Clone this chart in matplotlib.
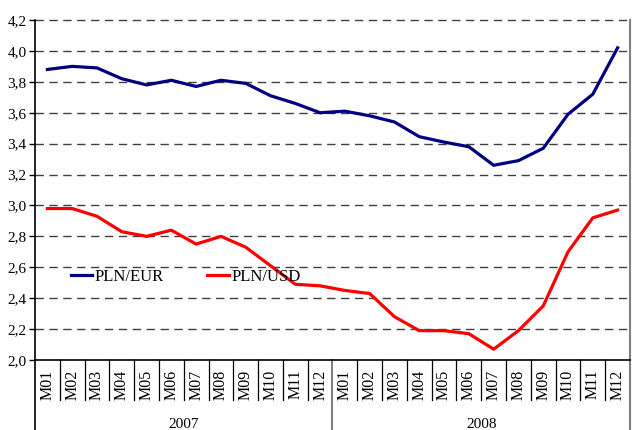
import matplotlib
matplotlib.use("Agg")
import matplotlib.pyplot as plt
import matplotlib.transforms as mtransforms

plt.rcParams['font.family'] = ['Liberation Serif', 'DejaVu Serif']

months = ['M01', 'M02', 'M03', 'M04', 'M05', 'M06',
          'M07', 'M08', 'M09', 'M10', 'M11', 'M12']
years = ['2007', '2008']
pln_eur = [3.88, 3.90, 3.89, 3.82, 3.78, 3.81, 3.77, 3.81, 3.79, 3.71, 3.66, 3.60,
           3.61, 3.58, 3.54, 3.445, 3.41, 3.38, 3.26, 3.29, 3.37, 3.59, 3.72, 4.02]
pln_usd = [2.98, 2.98, 2.93, 2.83, 2.80, 2.84, 2.75, 2.80, 2.73, 2.61, 2.49, 2.48,
           2.45, 2.43, 2.28, 2.19, 2.19, 2.17, 2.07, 2.19, 2.35, 2.70, 2.92, 2.97]
yticks = [2.0, 2.2, 2.4, 2.6, 2.8, 3.0, 3.2, 3.4, 3.6, 3.8, 4.0, 4.2]

labels = months * len(years)
x = list(range(len(labels)))

fig = plt.figure(figsize=(6.4, 4.3), dpi=100)
ax = fig.add_axes([35 / 640, 70 / 430, 595 / 640, 340 / 430])

# dashed gridlines
ax.hlines(yticks[1:], -0.5, len(x) - 0.5, colors='#404040', linestyles=(0, (6, 4)),
          linewidth=1.0, clip_on=False, zorder=1)

ax.plot(x, pln_eur, color='#000080', lw=2.3, label='PLN/EUR', zorder=3)
ax.plot(x, pln_usd, color='#ff0000', lw=2.3, label='PLN/USD', zorder=3)

ax.set_xlim(-0.5, len(x) - 0.5)
ax.set_ylim(2.0, 4.2)
ax.set_yticks(yticks)
ax.set_yticklabels([f"{v:.1f}".replace('.', ',') for v in yticks], fontsize=11)
ax.tick_params(axis='y', length=4, width=1, direction='out', pad=2)

ax.set_xticks(x)
ax.set_xticklabels(labels, rotation=90, fontsize=11.5)
ax.tick_params(axis='x', length=0, pad=7)

ax.spines['top'].set_visible(False)
ax.spines['right'].set_color('#808080')
ax.spines['right'].set_linewidth(1.5)
ax.spines['left'].set_linewidth(1.2)
ax.spines['bottom'].set_linewidth(1.2)

trans = mtransforms.blended_transform_factory(ax.transData, ax.transAxes)
# category separators
for i in range(1, len(x)):
    if i % 12 == 0:
        ax.plot([i - 0.5, i - 0.5], [0, -0.206], color='#808080', lw=1.5,
                transform=trans, clip_on=False)
    else:
        ax.plot([i - 0.5, i - 0.5], [0, -0.118], color='black', lw=0.9,
                transform=trans, clip_on=False)
ax.plot([-0.5, -0.5], [0, -0.206], color='black', lw=1.2, transform=trans, clip_on=False)
ax.plot([len(x) - 0.5, len(x) - 0.5], [0, -0.206], color='#808080', lw=1.5,
        transform=trans, clip_on=False)

for k, yr in enumerate(years):
    ax.text(k * 12 + 5.5, -0.19, yr, transform=trans, ha='center', va='center',
            fontsize=11)

ax.legend(loc='center left', bbox_to_anchor=(0.035, 0.244), ncol=2, frameon=False,
          fontsize=12, handlelength=1.3, handletextpad=0.15, columnspacing=2.6)

fig.savefig('out.png', dpi=100)
